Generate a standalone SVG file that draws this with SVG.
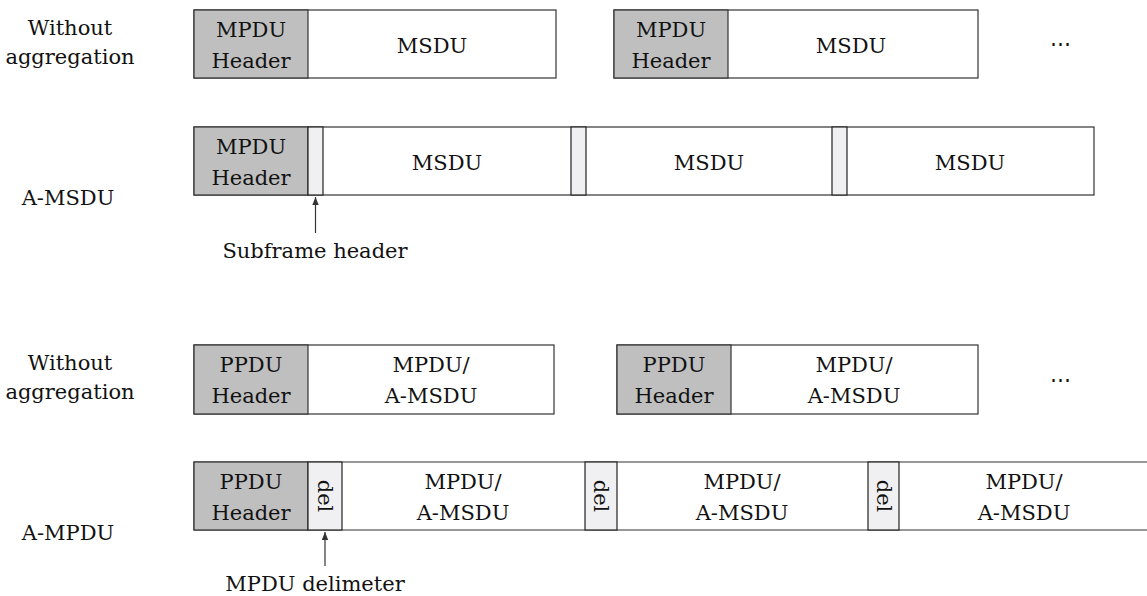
<svg xmlns="http://www.w3.org/2000/svg" width="1147" height="596" viewBox="0 0 1147 596">
<style>
text{font-family:"DejaVu Serif","Liberation Serif",serif;font-size:21px;fill:#111;text-anchor:middle}
.b{fill:#fff;stroke:#333;stroke-width:1.2}
.h{fill:#bfbfbf;stroke:#333;stroke-width:1.2}
.s{fill:#f0f0f2;stroke:#222;stroke-width:1.2}
.c{stroke:#333;stroke-width:1.2;fill:none}
.d{fill:#111}
</style>
<defs>
<marker id="ah" viewBox="0 0 10 10" refX="10" refY="5" markerWidth="8" markerHeight="8" markerUnits="userSpaceOnUse" orient="auto"><path d="M0,1 L10,5 L0,9 z" fill="#333"/></marker>
</defs>
<rect width="1147" height="596" fill="#fff"/>
<g id="labels">
<text x="70" y="35">Without</text><text x="70" y="64">aggregation</text>
<text x="68" y="205">A-MSDU</text>
<text x="70" y="370">Without</text><text x="70" y="399">aggregation</text>
<text x="68" y="540">A-MPDU</text>
<text x="1060" y="51">⋯</text>
<text x="1060" y="387">⋯</text>
</g>
<g id="row1">
<rect class="b" x="194" y="10" width="362" height="68"/>
<rect class="h" x="194" y="10" width="114" height="68"/>
<text x="251" y="37">MPDU</text><text x="251" y="68">Header</text>
<text x="432" y="53">MSDU</text>
<rect class="b" x="614" y="10" width="364" height="68"/>
<rect class="h" x="614" y="10" width="114" height="68"/>
<text x="671" y="37">MPDU</text><text x="671" y="68">Header</text>
<text x="851" y="53">MSDU</text>
</g>
<g id="row2">
<rect class="b" x="194" y="127" width="900" height="68"/>
<rect class="h" x="194" y="127" width="114" height="68"/>
<text x="251" y="154">MPDU</text><text x="251" y="185">Header</text>
<rect class="s" x="308" y="127" width="15" height="68"/>
<text x="447" y="170">MSDU</text>
<rect class="s" x="571" y="127" width="15" height="68"/>
<text x="709" y="170">MSDU</text>
<rect class="s" x="832" y="127" width="15" height="68"/>
<text x="970" y="170">MSDU</text>
</g>
<g id="row3">
<rect class="b" x="194" y="345" width="360" height="69"/>
<rect class="h" x="194" y="345" width="114" height="69"/>
<text x="251" y="372">PPDU</text><text x="251" y="403">Header</text>
<text x="431" y="372">MPDU/</text><text x="431" y="403">A-MSDU</text>
<rect class="b" x="617" y="345" width="361" height="69"/>
<rect class="h" x="617" y="345" width="114" height="69"/>
<text x="674" y="372">PPDU</text><text x="674" y="403">Header</text>
<text x="854" y="372">MPDU/</text><text x="854" y="403">A-MSDU</text>
</g>
<g id="row4">
<path class="c" d="M1147,462 H194 V530 H1147"/>
<rect class="h" x="194" y="462" width="114" height="68"/>
<text x="251" y="489">PPDU</text><text x="251" y="520">Header</text>
<rect class="s" x="308" y="462" width="34" height="68"/>
<text transform="translate(318,496) rotate(90)">del</text>
<text x="463" y="489">MPDU/</text><text x="463" y="520">A-MSDU</text>
<rect class="s" x="585" y="462" width="32" height="68"/>
<text transform="translate(594,496) rotate(90)">del</text>
<text x="742" y="489">MPDU/</text><text x="742" y="520">A-MSDU</text>
<rect class="s" x="868" y="462" width="31" height="68"/>
<text transform="translate(877,496) rotate(90)">del</text>
<text x="1024" y="489">MPDU/</text><text x="1024" y="520">A-MSDU</text>
</g>
<g id="connectors">
<line class="c" x1="315.5" y1="233" x2="315.5" y2="197" marker-end="url(#ah)"/>
<line class="c" x1="325" y1="566" x2="325" y2="532" marker-end="url(#ah)"/>
</g>
<g id="annotations">
<text x="315" y="258">Subframe header</text>
<text x="315" y="591">MPDU delimeter</text>
</g>
</svg>
